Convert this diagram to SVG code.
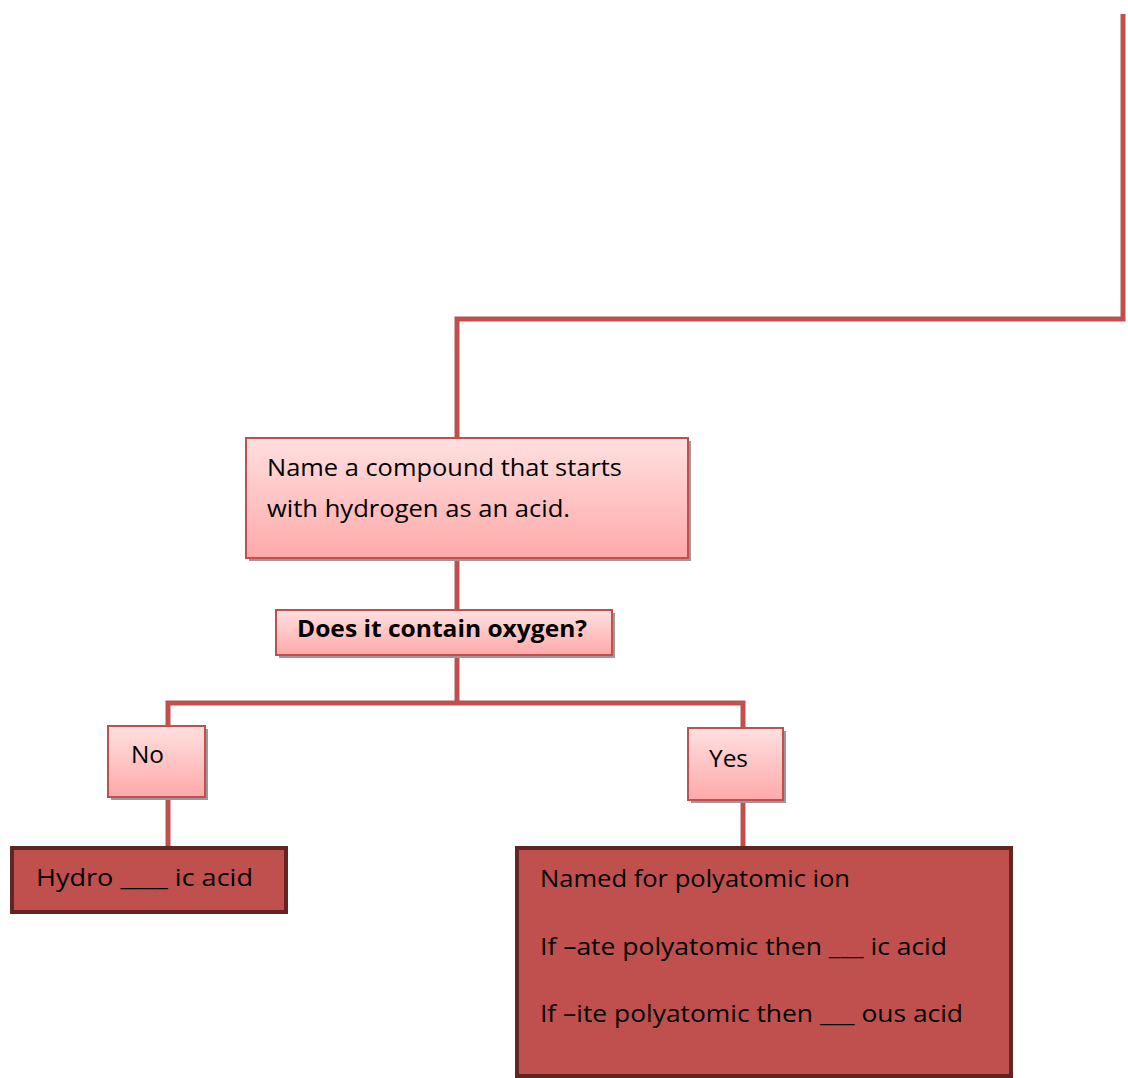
<svg xmlns="http://www.w3.org/2000/svg" width="1128" height="1078" viewBox="0 0 1128 1078">
<defs>
<linearGradient id="pink" x1="0" y1="0" x2="0" y2="1">
<stop offset="0" stop-color="#FFE0E0"/>
<stop offset="1" stop-color="#FFA9A9"/>
</linearGradient>
<style>
.conn{fill:none;stroke:#C0504D;stroke-width:5}
.shadow{fill:#9A9A9A}
.light{fill:url(#pink);stroke:#C0504D;stroke-width:2}
.dark{fill:#C0504D;stroke:#632523;stroke-width:4}
text{font-family:"Open Sans","Liberation Sans",sans-serif;font-size:23px;fill:#000}
.b{font-weight:bold}
</style>
</defs>
<rect width="1128" height="1078" fill="#FFFFFF"/>
<g id="connectors">
<polyline class="conn" points="1123,14 1123,319 457,319 457,438"/>
<line class="conn" x1="457" y1="557" x2="457" y2="610"/>
<line class="conn" x1="457" y1="655" x2="457" y2="703"/>
<polyline class="conn" points="168,726 168,703 743,703 743,728"/>
<line class="conn" x1="168" y1="797" x2="168" y2="848"/>
<line class="conn" x1="743" y1="800" x2="743" y2="848"/>
</g>
<g id="start">
<rect class="shadow" x="249" y="441" width="442" height="120"/>
<rect class="light" x="246" y="438" width="442" height="120"/>
<text x="267" y="476" textLength="355" lengthAdjust="spacingAndGlyphs">Name a compound that starts</text>
<text x="267" y="517" textLength="303" lengthAdjust="spacingAndGlyphs">with hydrogen as an acid.</text>
</g>
<g id="question">
<rect class="shadow" x="279" y="613" width="336" height="45"/>
<rect class="light" x="276" y="610" width="336" height="45"/>
<text class="b" x="297" y="637" textLength="290" lengthAdjust="spacingAndGlyphs">Does it contain oxygen?</text>
</g>
<g id="no">
<rect class="shadow" x="111" y="729" width="97" height="71"/>
<rect class="light" x="108" y="726" width="97" height="71"/>
<text x="131" y="763" textLength="33" lengthAdjust="spacingAndGlyphs">No</text>
</g>
<g id="yes">
<rect class="shadow" x="691" y="731" width="95" height="72"/>
<rect class="light" x="688" y="728" width="95" height="72"/>
<text x="709" y="767" textLength="39" lengthAdjust="spacingAndGlyphs">Yes</text>
</g>
<g id="hydro">
<rect class="dark" x="12" y="848" width="274" height="64"/>
<text x="36" y="886" textLength="217" lengthAdjust="spacingAndGlyphs">Hydro ____ ic acid</text>
</g>
<g id="oxyacid">
<rect class="dark" x="517" y="848" width="494" height="228"/>
<text x="540" y="887" textLength="310" lengthAdjust="spacingAndGlyphs">Named for polyatomic ion</text>
<text x="540" y="955" textLength="407" lengthAdjust="spacingAndGlyphs">If –ate polyatomic then ___ ic acid</text>
<text x="540" y="1022" textLength="423" lengthAdjust="spacingAndGlyphs">If –ite polyatomic then ___ ous acid</text>
</g>
</svg>
